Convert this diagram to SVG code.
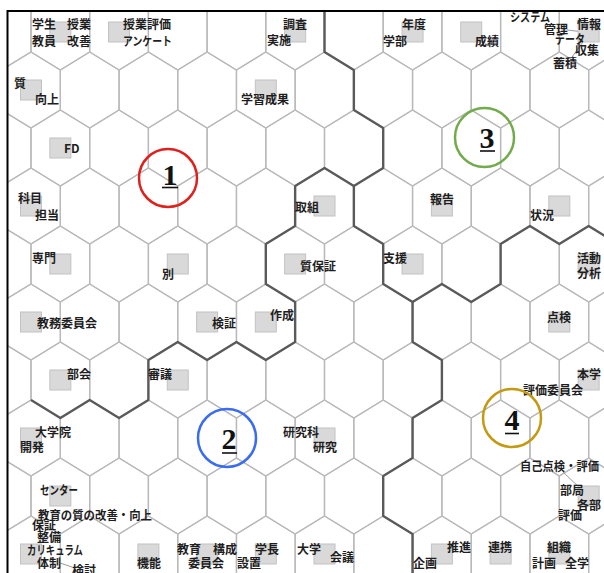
<svg xmlns="http://www.w3.org/2000/svg" xmlns:xlink="http://www.w3.org/1999/xlink" width="604" height="573" viewBox="0 0 604 573">
<style>
.hx{fill:none;stroke:#b9b9b9;stroke-width:1.3}
.bd{fill:none;stroke:#5a5a5a;stroke-width:2.4;stroke-linejoin:round}
.sq{fill:#d9d9d9;stroke:#c2c2c2;stroke-width:1}
.t{font-family:"Noto Sans CJK JP","Noto Sans",sans-serif;font-size:12px;font-weight:700;fill:#1e1e1e}
.ld{stroke:#9a9a9a;stroke-width:1;fill:none}
.num{font-family:"Liberation Serif",serif;font-size:30px;font-weight:700;fill:#111;text-anchor:middle}
.ul{stroke:#111;stroke-width:1.6}
.c{fill:none;stroke-width:2.5}
</style>
<defs>
<polygon id="h" class="hx" points="0,-38 29.35,-20 29.35,20 0,38 -29.35,20 -29.35,-20"/>
<g id="ro">
<use href="#h" x="1.65"/><use href="#h" x="60.35"/><use href="#h" x="119.05"/><use href="#h" x="177.75"/><use href="#h" x="236.45"/><use href="#h" x="295.15"/><use href="#h" x="353.85"/><use href="#h" x="412.55"/><use href="#h" x="471.25"/><use href="#h" x="529.95"/><use href="#h" x="588.65"/>
</g>
<g id="re">
<use href="#h" x="31"/><use href="#h" x="89.7"/><use href="#h" x="148.4"/><use href="#h" x="207.1"/><use href="#h" x="265.8"/><use href="#h" x="324.5"/><use href="#h" x="383.2"/><use href="#h" x="441.9"/><use href="#h" x="500.6"/><use href="#h" x="559.3"/><use href="#h" x="618"/>
</g>
<clipPath id="cp"><rect x="8" y="11" width="596" height="562"/></clipPath>
</defs>
<rect x="0" y="0" width="604" height="573" fill="#fff"/>
<g id="grid" clip-path="url(#cp)">
<use href="#ro" y="32"/><use href="#re" y="90"/><use href="#ro" y="148"/><use href="#re" y="206"/><use href="#ro" y="264"/><use href="#re" y="322"/><use href="#ro" y="380"/><use href="#re" y="438"/><use href="#ro" y="496"/><use href="#re" y="554"/>
</g>
<g id="boundaries" clip-path="url(#cp)">
<path class="bd" d="M324.5,11 V52 L353.85,70 V110 L383.2,128 V168 L353.85,186 V226 L383.2,244 V284 L412.55,302 V342 L441.9,360 V400 L412.55,418 V458 L383.2,476 V516 L412.55,534 V574"/>
<path class="bd" d="M353.85,186 L324.5,168 L295.15,186 V226 L265.8,244 V284 L295.15,302 V342 L265.8,360 L236.45,342 L207.1,360 L177.75,342 L148.4,360 V400 L119.05,418 L89.7,400 L60.35,418 L31,400"/>
<path class="bd" d="M412.55,302 L441.9,284 L471.25,302 L500.6,284 V244 L529.95,226 L559.3,244 L588.65,226 L618,244"/>
</g>
<g id="frame" stroke="#000" stroke-width="2">
<line x1="7.5" y1="11" x2="604" y2="11"/>
<line x1="7.5" y1="10" x2="7.5" y2="573"/>
</g>
<g id="connectors">
<line class="ld" x1="567" y1="30" x2="584" y2="32"/>
<line class="ld" x1="585" y1="40" x2="592" y2="34"/>
<line class="ld" x1="572" y1="57" x2="583" y2="42"/>
<line class="ld" x1="60" y1="563" x2="72" y2="567"/>
<line class="ld" x1="563" y1="472" x2="582" y2="490"/>
</g>
<g id="n-r1a"><rect class="sq" x="49.85" y="22" width="21" height="20"/><text class="t" x="32" y="29">学生</text><text class="t" x="67" y="29">授業</text><text class="t" x="32" y="46">教員</text><text class="t" x="67" y="46">改善</text></g>
<g id="n-r1b"><rect class="sq" x="108.55" y="22" width="21" height="20"/><text class="t" x="123" y="29">授業評価</text><text class="t" x="123" y="46" textLength="49" lengthAdjust="spacingAndGlyphs">アンケート</text></g>
<g id="n-r1c"><rect class="sq" x="284.65" y="22" width="21" height="20"/><text class="t" x="283" y="29">調査</text><text class="t" x="267" y="45">実施</text></g>
<g id="n-r1d"><rect class="sq" x="402.05" y="22" width="21" height="20"/><text class="t" x="402" y="29">年度</text><text class="t" x="383" y="46">学部</text></g>
<g id="n-r1e"><rect class="sq" x="460.75" y="22" width="21" height="20"/><text class="t" x="475" y="46">成績</text></g>
<g id="n-r1f"><rect class="sq" x="578.15" y="22" width="21" height="20"/><text class="t" x="510" y="22" textLength="40" lengthAdjust="spacingAndGlyphs">システム</text><text class="t" x="544" y="34">管理</text><text class="t" x="577" y="29">情報</text><text class="t" x="555" y="44" textLength="30" lengthAdjust="spacingAndGlyphs">データ</text><text class="t" x="575" y="55">収集</text><text class="t" x="553" y="68">蓄積</text></g>
<g id="n-r2a"><rect class="sq" x="20.5" y="80" width="21" height="20"/><text class="t" x="14" y="88">質</text><text class="t" x="35" y="104">向上</text></g>
<g id="n-r2b"><rect class="sq" x="255.3" y="80" width="21" height="20"/><text class="t" x="241" y="104">学習成果</text></g>
<g id="n-r3a"><rect class="sq" x="49.85" y="138" width="21" height="20"/><text class="t" x="64" y="153">FD</text></g>
<g id="n-r4a"><rect class="sq" x="20.5" y="196" width="21" height="20"/><text class="t" x="18" y="203">科目</text><text class="t" x="35" y="220">担当</text></g>
<g id="n-r4b"><rect class="sq" x="314" y="196" width="21" height="20"/><text class="t" x="295" y="212">取組</text></g>
<g id="n-r4c"><rect class="sq" x="431.4" y="196" width="21" height="20"/><text class="t" x="430" y="204">報告</text></g>
<g id="n-r4d"><rect class="sq" x="548.8" y="196" width="21" height="20"/><text class="t" x="530" y="220">状況</text></g>
<g id="n-r5a"><rect class="sq" x="49.85" y="254" width="21" height="20"/><text class="t" x="32" y="263">専門</text></g>
<g id="n-r5b"><rect class="sq" x="167.25" y="254" width="21" height="20"/><text class="t" x="162" y="279">別</text></g>
<g id="n-r5c"><rect class="sq" x="284.65" y="254" width="21" height="20"/><text class="t" x="300" y="271">質保証</text></g>
<g id="n-r5d"><rect class="sq" x="402.05" y="254" width="21" height="20"/><text class="t" x="383" y="263">支援</text></g>
<g id="n-r5e"><rect class="sq" x="578.15" y="254" width="21" height="20"/><text class="t" x="577" y="263">活動</text><text class="t" x="577" y="278">分析</text></g>
<g id="n-r6a"><rect class="sq" x="20.5" y="312" width="21" height="20"/><text class="t" x="37" y="328">教務委員会</text></g>
<g id="n-r6b"><rect class="sq" x="196.6" y="312" width="21" height="20"/><text class="t" x="212" y="328">検証</text></g>
<g id="n-r6c"><rect class="sq" x="255.3" y="312" width="21" height="20"/><text class="t" x="270" y="320">作成</text></g>
<g id="n-r6d"><rect class="sq" x="548.8" y="312" width="21" height="20"/><text class="t" x="547" y="322">点検</text></g>
<g id="n-r7a"><rect class="sq" x="49.85" y="370" width="21" height="20"/><text class="t" x="67" y="379">部会</text></g>
<g id="n-r7b"><rect class="sq" x="167.25" y="370" width="21" height="20"/><text class="t" x="148" y="379">審議</text></g>
<g id="n-r7c"><rect class="sq" x="578.15" y="370" width="21" height="20"/><text class="t" x="577" y="379">本学</text><text class="t" x="523" y="395">評価委員会</text></g>
<g id="n-r8a"><rect class="sq" x="20.5" y="428" width="21" height="20"/><text class="t" x="35" y="437">大学院</text><text class="t" x="20" y="452">開発</text></g>
<g id="n-r8b"><rect class="sq" x="314" y="428" width="21" height="20"/><text class="t" x="283" y="437">研究科</text><text class="t" x="313" y="452">研究</text></g>
<g id="n-r9a"><rect class="sq" x="49.85" y="486" width="21" height="20"/><text class="t" x="40" y="495" textLength="38" lengthAdjust="spacingAndGlyphs">センター</text><text class="t" x="38" y="520" textLength="114" lengthAdjust="spacingAndGlyphs">教育の質の改善・向上</text></g>
<g id="n-r9b"><rect class="sq" x="578.15" y="486" width="21" height="20"/><text class="t" x="520" y="471" textLength="79" lengthAdjust="spacingAndGlyphs">自己点検・評価</text><text class="t" x="560" y="495">部局</text><text class="t" x="577" y="510">各部</text><text class="t" x="558" y="520">評価</text></g>
<g id="n-r10a"><rect class="sq" x="20.5" y="544" width="21" height="20"/><text class="t" x="32" y="530">保証</text><text class="t" x="37" y="542">整備</text><text class="t" x="27" y="555" textLength="56" lengthAdjust="spacingAndGlyphs">カリキュラム</text><text class="t" x="37" y="568">体制</text><text class="t" x="72" y="575">検討</text></g>
<g id="n-r10b"><rect class="sq" x="137.9" y="544" width="21" height="20"/><text class="t" x="137" y="568">機能</text></g>
<g id="n-r10c"><rect class="sq" x="196.6" y="544" width="21" height="20"/><text class="t" x="177" y="554">教育</text><text class="t" x="188" y="568">委員会</text><text class="t" x="213" y="554">構成</text></g>
<g id="n-r10d"><rect class="sq" x="255.3" y="544" width="21" height="20"/><text class="t" x="237" y="568">設置</text><text class="t" x="255" y="554">学長</text></g>
<g id="n-r10e"><rect class="sq" x="314" y="544" width="21" height="20"/><text class="t" x="297" y="554">大学</text><text class="t" x="330" y="562">会議</text></g>
<g id="n-r10f"><rect class="sq" x="431.4" y="544" width="21" height="20"/><text class="t" x="447" y="552">推進</text><text class="t" x="413" y="568">企画</text></g>
<g id="n-r10g"><rect class="sq" x="490.1" y="544" width="21" height="20"/><text class="t" x="488" y="552">連携</text></g>
<g id="n-r10h"><rect class="sq" x="548.8" y="544" width="21" height="20"/><text class="t" x="547" y="552">組織</text><text class="t" x="532" y="568">計画</text><text class="t" x="565" y="568">全学</text></g>
<g id="c1"><circle class="c" cx="168" cy="178" r="29" stroke="#e0201c"/><text class="num" x="170" y="185">1</text><line class="ul" x1="162" y1="187.5" x2="178" y2="187.5"/></g>
<g id="c2"><circle class="c" cx="227" cy="438" r="29" stroke="#3a6cf0"/><text class="num" x="229" y="449">2</text><line class="ul" x1="222" y1="453" x2="237" y2="453"/></g>
<g id="c3"><circle class="c" cx="484.5" cy="137.5" r="29.5" stroke="#72ac4a"/><text class="num" x="487" y="148">3</text><line class="ul" x1="480" y1="151" x2="495" y2="151"/></g>
<g id="c4"><circle class="c" cx="512" cy="418" r="29" stroke="#c49a12"/><text class="num" x="512" y="430">4</text><line class="ul" x1="505" y1="433.5" x2="519" y2="433.5"/></g>
</svg>
